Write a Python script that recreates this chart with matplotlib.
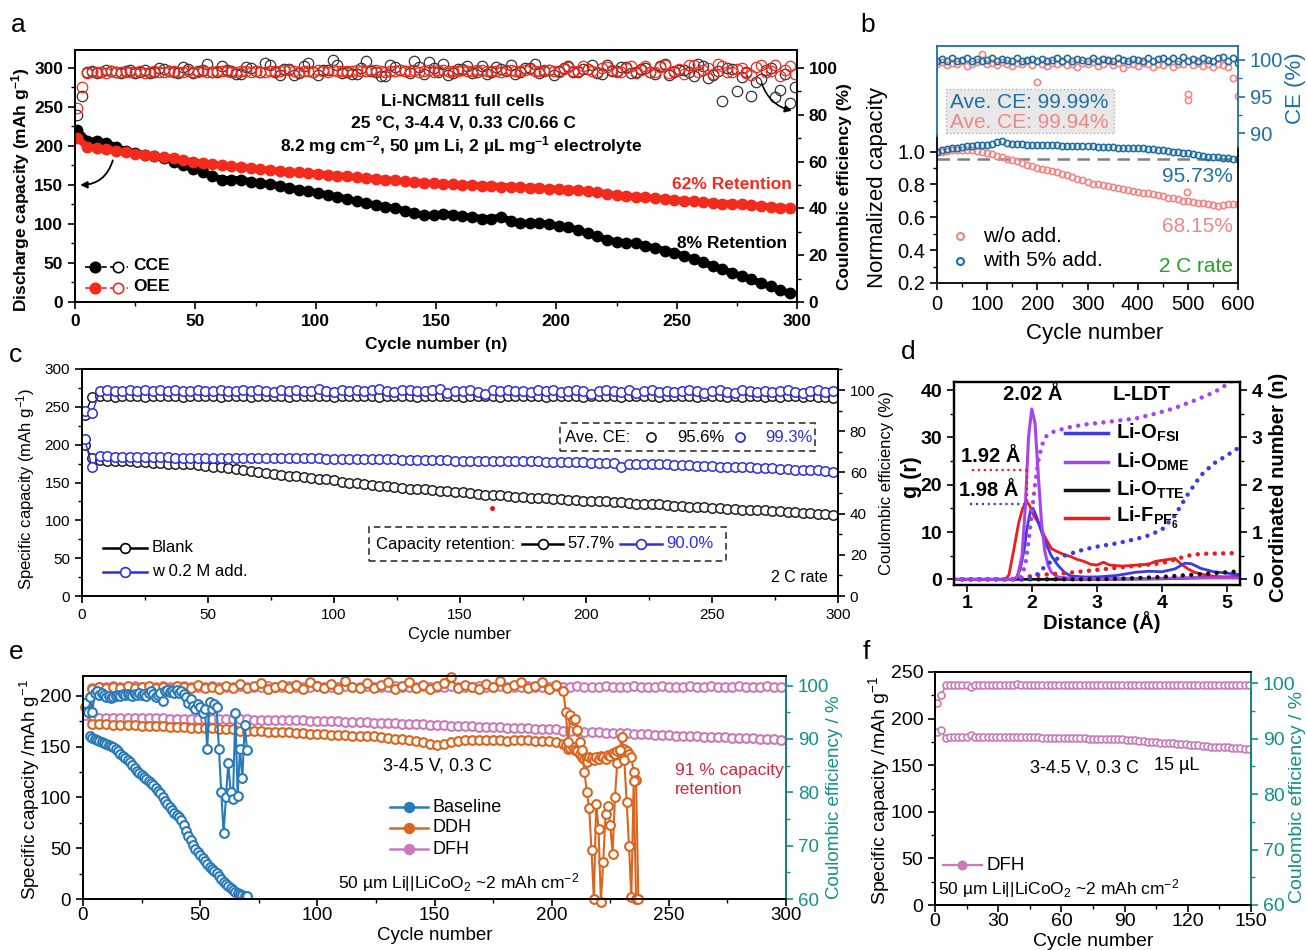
import numpy as np
import matplotlib
matplotlib.use("Agg")
import matplotlib.pyplot as plt
from matplotlib.lines import Line2D
from matplotlib.patches import Rectangle
from matplotlib.ticker import MultipleLocator, FormatStrFormatter

W, H = 1307, 950

plt.rcParams["font.family"] = ["Liberation Sans", "DejaVu Sans"]
plt.rcParams["mathtext.fontset"] = "custom"
plt.rcParams["mathtext.rm"] = "Liberation Sans"
plt.rcParams["mathtext.it"] = "Liberation Sans:italic"
plt.rcParams["mathtext.bf"] = "Liberation Sans:bold"
plt.rcParams["axes.linewidth"] = 1.3

# =========================
# Data
# =========================
# --- panel a: Li-NCM811 full cells (every 4th cycle, CE also on the odd 2nd cycles) ---
a_cycles = np.arange(1, 301, 4)
a_cycles_mid = np.arange(3, 301, 4)
a_cce_cap = [220, 207, 206, 204, 199, 194, 191, 189, 187, 185,
             180, 175, 171, 167, 161, 157, 157, 157, 154, 152,
             151, 149, 146, 144, 142, 140, 137, 135, 132, 129,
             127, 124, 122, 120, 117, 114, 111, 111, 113, 112,
             110, 109, 107, 107, 109, 104, 101, 101, 101, 100,
             97, 96, 92, 88, 84, 80, 77, 76, 75, 72,
             69, 66, 63, 59, 55, 51, 46, 42, 37, 33,
             29, 24, 20, 15, 11]
a_oee_cap = [210, 199, 197, 196, 194, 192, 190, 189, 187, 186,
             184, 182, 180, 178, 177, 175, 174, 173, 172, 170,
             169, 168, 167, 166, 165, 164, 163, 162, 161, 160,
             159, 158, 157, 156, 155, 154, 153, 152, 151, 151,
             150, 150, 149, 149, 148, 148, 147, 146, 146, 145,
             145, 144, 143, 142, 141, 139, 137, 136, 135, 134,
             133, 132, 131, 130, 129, 128, 127, 126, 126, 125,
             124, 123, 122, 121, 120]
a_cce_ce = [80.0, 98.5, 98.0, 99.0, 98.2, 98.6, 97.8, 99.2, 98.4, 99.6,
            98.1, 100.5, 97.9, 99.0, 98.3, 101.0, 98.6, 97.5, 99.8, 98.2,
            101.5, 97.2, 99.4, 98.0, 102.2, 97.0, 99.1, 101.3, 98.4, 97.6,
            102.8, 98.1, 96.8, 100.6, 98.7, 103.2, 97.4, 99.9, 101.8, 98.0,
            99.5, 97.8, 100.9, 98.3, 99.7, 101.4, 98.5, 100.2, 97.9, 99.3,
            98.8, 100.7, 98.2, 99.6, 97.7, 101.1, 98.9, 100.4, 98.1, 99.8,
            97.5, 101.6, 98.4, 99.1, 96.5, 100.8, 97.2, 86.0, 99.5, 96.2,
            88.0, 95.5, 100.2, 90.5, 85.0]
a_cce_ce_mid = [88.0, 98.9, 98.3, 98.7, 97.9, 99.1, 98.5, 98.0, 100.2, 98.6,
                97.8, 99.4, 98.9, 101.7, 98.2, 99.0, 97.6, 100.4, 98.8, 102.0,
                98.3, 99.7, 96.9, 100.8, 98.5, 99.3, 103.5, 98.0, 97.4, 100.1,
                98.9, 96.5, 101.2, 99.0, 97.8, 100.5, 102.4, 98.3, 96.9, 99.6,
                101.0, 98.4, 97.5, 100.3, 98.9, 97.3, 99.8, 101.9, 98.6, 97.1,
                100.0, 98.2, 99.4, 101.3, 97.6, 98.8, 100.6, 97.9, 99.7, 98.3,
                100.9, 97.0, 99.2, 98.4, 101.8, 95.8, 98.7, 99.9, 90.0, 98.5,
                94.2, 99.0, 87.5, 97.6, 92.0]
a_oee_ce = [83.0, 98.0, 98.3, 97.9, 98.5, 98.1, 98.4, 98.0, 98.6, 98.2,
            98.7, 98.3, 98.1, 98.8, 98.4, 98.6, 98.2, 98.9, 98.5, 98.3,
            98.8, 98.6, 99.0, 98.4, 98.7, 99.1, 98.5, 98.9, 98.6, 99.0,
            98.7, 99.2, 98.4, 98.9, 98.6, 99.3, 98.8, 98.5, 99.1, 98.7,
            99.0, 98.6, 99.3, 98.8, 98.5, 99.2, 98.9, 99.4, 98.7, 99.1,
            98.4, 100.3, 98.9, 99.6, 98.2, 100.6, 98.5, 99.9, 97.8, 100.8,
            98.3, 101.2, 98.8, 97.6, 101.5, 99.0, 97.4, 101.0, 98.1, 100.2,
            97.2, 101.4, 98.6, 96.8, 100.9]
a_oee_ce_mid = [92.0, 98.3, 98.1, 98.6, 98.2, 98.4, 98.7, 98.3, 98.5, 98.8,
                98.4, 98.9, 98.5, 98.3, 98.7, 98.9, 98.4, 98.6, 98.8, 98.5,
                98.6, 99.0, 98.7, 98.9, 98.5, 98.8, 99.1, 98.6, 98.8, 98.7,
                99.0, 98.6, 98.9, 99.2, 98.7, 98.5, 99.0, 99.2, 98.8, 98.9,
                98.7, 99.1, 98.9, 98.6, 99.3, 98.8, 99.0, 98.6, 99.2, 98.9,
                99.4, 98.7, 100.9, 98.6, 100.1, 99.0, 98.3, 100.7, 99.2, 98.5,
                100.5, 97.9, 99.4, 101.3, 98.2, 100.0, 101.7, 98.5, 99.6, 97.7,
                100.6, 98.2, 101.1, 99.0, 97.5]

# --- panel b: normalized capacity and CE (every 10th cycle) ---
b_cycles = np.arange(0, 601, 10)
b_blue_cap = [1.00, 1.01, 1.015, 1.02, 1.025, 1.03, 1.035, 1.035, 1.04, 1.04,
              1.04, 1.045, 1.06, 1.065, 1.05, 1.045, 1.045, 1.045, 1.04, 1.04,
              1.04, 1.04, 1.04, 1.04, 1.04, 1.035, 1.035, 1.035, 1.035, 1.035,
              1.035, 1.035, 1.03, 1.03, 1.03, 1.03, 1.025, 1.025, 1.025, 1.02,
              1.02, 1.02, 1.015, 1.015, 1.01, 1.01, 1.005, 1.0, 0.995, 0.99,
              0.99, 0.985, 0.98, 0.975, 0.97, 0.97, 0.965, 0.96, 0.96, 0.955,
              0.955]
b_pink_cap = [1.00, 1.00, 1.005, 1.01, 1.01, 1.01, 1.01, 1.01, 1.005, 1.0,
              0.99, 0.985, 0.975, 0.965, 0.955, 0.95, 0.94, 0.93, 0.92, 0.91,
              0.90, 0.895, 0.89, 0.88, 0.875, 0.865, 0.855, 0.845, 0.835, 0.825,
              0.815, 0.805, 0.80, 0.795, 0.79, 0.785, 0.78, 0.77, 0.765, 0.76,
              0.755, 0.75, 0.745, 0.74, 0.735, 0.73, 0.72, 0.715, 0.71, 0.70,
              0.70, 0.695, 0.69, 0.685, 0.68, 0.675, 0.67, 0.675, 0.68, 0.68,
              0.68]
b_blue_ce = [99.9, 100.1, 99.8, 100.2, 99.9, 100.0, 100.2, 99.8, 100.1, 99.9,
             100.0, 100.2, 99.8, 100.1, 100.0, 99.9, 100.2, 99.8, 100.0, 100.1,
             99.9, 100.1, 99.8, 100.0, 100.2, 99.9, 100.3, 99.8, 100.1, 100.0,
             99.9, 100.2, 99.8, 100.1, 100.0, 99.8, 100.2, 100.0, 99.9, 100.1,
             100.0, 99.8, 100.2, 99.9, 100.1, 100.3, 99.8, 100.2, 99.9, 100.4,
             99.8, 100.1, 99.9, 100.3, 100.0, 99.8, 100.2, 100.4, 99.9, 100.2,
             99.6]
b_pink_ce = [99.5, 99.7, 99.3, 99.6, 99.4, 99.8, 99.2, 99.5, 99.7, 100.8,
             99.4, 99.6, 99.3, 99.7, 99.5, 99.2, 99.6, 99.4, 99.8, 99.3,
             97.0, 99.5, 99.2, 99.6, 99.4, 99.7, 99.3, 99.5, 99.1, 99.6,
             99.4, 99.7, 99.2, 99.5, 99.8, 99.3, 99.6, 98.9, 99.4, 99.5,
             99.2, 99.6, 99.4, 99.0, 99.5, 99.3, 99.7, 99.1, 99.5, 99.4,
             95.4, 99.3, 99.6, 99.2, 99.5, 99.0, 99.4, 99.3, 99.1, 97.6,
             95.1]
b_pink_cap_out_x = [498]
b_pink_cap_out_y = [0.755]
b_pink_ce_out_x = [500]
b_pink_ce_out_y = [94.5]

# --- panel c: blank vs 0.2 M additive (every 3rd cycle) ---
c_cycles = np.arange(1, 301, 3)
c_blank_cap = [200, 182, 180, 179, 179, 178, 178, 177, 177, 176,
               176, 175, 175, 174, 174, 173, 172, 171, 170, 169,
               168, 167, 165, 164, 162, 161, 160, 159, 158, 157,
               156, 155, 154, 153, 151, 150, 149, 148, 147, 146,
               145, 144, 143, 142, 142, 141, 140, 139, 139, 138,
               137, 136, 135, 134, 134, 133, 132, 131, 131, 130,
               129, 129, 128, 128, 127, 127, 126, 126, 125, 125,
               124, 124, 123, 122, 122, 121, 121, 120, 119, 119,
               118, 118, 117, 116, 116, 115, 115, 114, 114, 113,
               113, 112, 112, 111, 111, 110, 110, 109, 108, 107]
c_add_cap = [208, 170, 185, 185, 184, 184, 184, 184, 184, 184,
             184, 184, 183, 183, 183, 183, 183, 183, 183, 182,
             182, 182, 182, 182, 182, 182, 182, 182, 182, 182,
             182, 182, 181, 181, 181, 181, 181, 181, 181, 181,
             181, 181, 180, 180, 180, 180, 180, 180, 180, 179,
             179, 179, 179, 179, 178, 178, 178, 178, 178, 178,
             178, 177, 177, 177, 177, 177, 177, 176, 176, 176,
             176, 170, 175, 175, 175, 174, 174, 174, 173, 173,
             173, 172, 172, 172, 171, 171, 171, 170, 170, 169,
             169, 169, 168, 168, 167, 167, 166, 166, 165, 164]
c_blank_ce = [88.0, 96.5, 96.9, 97.2, 96.8, 97.1, 96.9, 97.3, 96.8, 97.0,
              97.2, 96.9, 97.1, 96.8, 97.3, 97.0, 96.9, 97.2, 96.8, 97.1,
              97.0, 97.3, 96.8, 97.1, 96.9, 97.2, 97.0, 96.8, 97.3, 97.0,
              96.9, 97.2, 97.0, 96.8, 97.1, 97.3, 96.9, 97.0, 97.2, 96.8,
              97.1, 96.9, 97.3, 97.0, 96.8, 97.2, 97.0, 96.9, 97.1, 97.3,
              96.8, 97.0, 97.2, 96.9, 97.1, 96.7, 97.0, 97.2, 96.9, 97.1,
              97.0, 96.8, 97.2, 97.0, 96.9, 97.1, 96.8, 97.2, 97.0, 96.9,
              97.1, 96.8, 97.0, 97.2, 96.9, 97.1, 96.8, 97.0, 97.2, 96.9,
              97.0, 96.7, 97.1, 96.9, 97.2, 96.8, 97.0, 96.7, 97.1, 96.9,
              96.8, 97.0, 96.6, 96.9, 97.1, 96.7, 96.9, 96.6, 96.8, 96.0]
c_add_ce = [90.0, 88.6, 99.5, 99.8, 99.3, 99.7, 100.2, 99.6, 99.9, 99.4,
            99.8, 99.5, 100.0, 99.6, 99.3, 99.9, 99.7, 99.4, 100.1, 99.6,
            99.3, 99.8, 99.5, 100.0, 99.6, 99.2, 99.9, 99.5, 100.2, 99.7,
            99.4, 100.3, 99.6, 99.2, 99.9, 99.5, 100.1, 99.3, 99.8, 100.4,
            99.5, 99.1, 99.9, 100.2, 99.6, 99.3, 99.8, 100.3, 98.6, 99.7,
            99.4, 99.9, 99.2, 98.1, 99.8, 99.5, 100.0, 99.3, 99.7, 99.1,
            99.8, 99.4, 100.1, 99.0, 99.6, 99.9, 99.3, 98.2, 99.7, 100.2,
            99.5, 99.1, 99.8, 98.4, 99.6, 100.1, 99.2, 99.7, 98.8, 99.5,
            99.9, 99.3, 98.5, 99.6, 100.0, 99.2, 98.6, 99.8, 99.4, 99.0,
            99.7, 98.8, 99.5, 100.1, 99.2, 98.7, 99.6, 99.9, 99.1, 99.5]

# --- panel d: RDF g(r) and coordination number n(r) ---
d_dme_r = [0.8, 1.7, 1.78, 1.85, 1.9, 1.95, 2.0, 2.05, 2.1, 2.15, 2.2, 2.25, 2.3, 2.4, 2.6, 3.0, 3.5, 4.0, 4.5, 5.0, 5.2]
d_dme_g = [0, 0, 0.5, 5, 15, 30, 36, 33, 22, 12, 6, 3, 1.5, 0.5, 0.2, 0.1, 0.1, 0.2, 0.3, 0.3, 0.3]
d_fsi_r = [0.8, 1.75, 1.82, 1.88, 1.93, 1.98, 2.02, 2.08, 2.15, 2.22, 2.3, 2.4, 2.5, 2.6, 2.8, 3.0, 3.3, 3.6, 3.8, 4.0, 4.2, 4.35, 4.45, 4.6, 4.8, 5.0, 5.2]
d_fsi_g = [0, 0, 2, 6, 11, 14.5, 15, 13, 10, 7.5, 5, 3, 1.5, 0.7, 0.5, 0.5, 0.8, 1.5, 1.7, 1.6, 2.2, 3.4, 3.3, 2.3, 1.6, 1.3, 1.0]
d_pf6_r = [0.8, 1.6, 1.65, 1.72, 1.8, 1.86, 1.92, 1.97, 2.03, 2.1, 2.2, 2.3, 2.4, 2.5, 2.6, 2.7, 2.8, 2.9, 3.0, 3.1, 3.2, 3.4, 3.6, 3.8, 3.9, 4.0, 4.1, 4.2, 4.3, 4.4, 4.5, 4.7, 5.0, 5.2]
d_pf6_g = [0, 0, 1, 6, 12, 15, 16.5, 15.5, 13.5, 12, 9, 6.5, 5.8, 5.2, 4.8, 4.2, 3.8, 3.2, 3.0, 3.6, 3.0, 2.8, 3.0, 3.2, 3.8, 4.0, 4.2, 4.4, 3.2, 2.2, 1.5, 0.8, 0.4, 0.3]
d_tte_r = [0.8, 3.0, 4.0, 4.5, 5.0, 5.2]
d_tte_g = [0, 0, 0.1, 0.3, 0.5, 0.6]
d_dme_nr = [0.8, 1.8, 1.85, 1.9, 1.95, 2.0, 2.05, 2.1, 2.15, 2.2, 2.3, 2.4, 2.6, 2.8, 3.0, 3.3, 3.6, 3.9, 4.2, 4.5, 4.8, 5.0, 5.2]
d_dme_n = [0, 0, 0.1, 0.3, 0.8, 1.4, 2.0, 2.5, 2.8, 3.0, 3.1, 3.15, 3.22, 3.27, 3.3, 3.35, 3.4, 3.5, 3.62, 3.78, 3.95, 4.12, 4.3]
d_fsi_nr = [0.8, 1.9, 2.0, 2.1, 2.2, 2.3, 2.5, 2.8, 3.0, 3.3, 3.6, 3.8, 4.0, 4.2, 4.4, 4.6, 4.8, 5.0, 5.2]
d_fsi_n = [0, 0, 0.03, 0.12, 0.27, 0.38, 0.5, 0.63, 0.69, 0.76, 0.85, 0.93, 1.05, 1.35, 1.8, 2.2, 2.45, 2.62, 2.8]
d_pf6_nr = [0.8, 1.7, 1.8, 1.9, 2.0, 2.1, 2.3, 2.5, 2.8, 3.0, 3.5, 4.0, 4.2, 4.4, 4.6, 5.0, 5.2]
d_pf6_n = [0, 0, 0.02, 0.05, 0.07, 0.09, 0.11, 0.13, 0.17, 0.2, 0.27, 0.34, 0.42, 0.5, 0.54, 0.55, 0.56]
d_tte_nr = [0.8, 3.0, 3.5, 4.0, 4.5, 5.0, 5.2]
d_tte_n = [0, 0, 0.02, 0.05, 0.1, 0.15, 0.17]

# --- panel e: Li||LiCoO2, Baseline / DDH / DFH ---
e_base_ce_cyc = np.arange(1, 71)
e_base_ce = [96.7, 95.1, 97.9, 95.1, 98.6, 99.0, 98.3, 98.6, 98.2, 97.8,
             98.0, 97.6, 97.9, 98.1, 98.3, 98.0, 98.4, 98.2, 98.5, 98.3,
             98.1, 98.4, 98.2, 98.6, 98.3, 98.5, 98.1, 98.7, 98.9, 98.4,
             97.9, 98.2, 98.6, 97.2, 99.0, 99.2, 98.8, 99.0, 98.6, 99.1,
             98.7, 99.0, 98.4, 97.8, 96.8, 97.4, 96.2, 95.6, 96.5, 96.0,
             94.8, 95.7, 88.2, 96.9, 95.7, 96.6, 96.0, 88.2, 80.0, 72.3,
             79.1, 85.5, 80.0, 78.8, 94.8, 79.4, 88.2, 82.6, 92.6, 88.0]
e_base_cap_cyc = np.arange(3, 71)
e_base_cap = [161, 159, 158, 157, 156, 155, 154, 153, 152, 151,
              150, 148, 146, 143, 141, 139, 137, 135, 132, 129,
              126, 124, 122, 120, 118, 116, 114, 112, 109, 106,
              104, 100, 97, 94, 91, 88, 85, 83, 81, 78,
              73, 67, 62, 58, 53, 49, 46, 43, 40, 37,
              34, 32, 30, 28, 26, 23, 20, 17, 15, 13,
              11, 9, 7, 6, 5, 4, 3, 3]
e_ddh_cyc = np.concatenate([np.arange(1, 205, 3), np.arange(205, 238)])
e_ddh_cap = [188, 172, 172, 172, 171, 171, 171, 171, 170, 170,
             170, 170, 169, 169, 169, 168, 168, 168, 168, 167,
             167, 167, 166, 166, 166, 166, 165, 165, 165, 165,
             164, 164, 163, 163, 163, 162, 162, 162, 161, 161,
             161, 161, 160, 159, 158, 158, 157, 156, 155, 153,
             152, 153, 155, 156, 157, 157, 157, 157, 157, 157,
             156, 157, 157, 157, 156, 156, 156, 155,
             153, 152, 148, 149, 150, 147, 146, 143, 140, 138,
             135, 140, 139, 137, 140, 138, 141, 140, 138, 142,
             141, 144, 143, 146, 147, 145, 148, 146, 143, 140,
             125, 117, 0]
e_ddh_ce = [96.0, 99.4, 99.7, 99.5, 99.8, 99.6, 99.9, 99.5, 99.7, 100.0,
            99.6, 99.8, 99.4, 99.9, 99.7, 99.5, 100.1, 99.6, 99.8, 99.4,
            100.0, 99.5, 100.3, 99.6, 99.9, 100.5, 99.4, 99.8, 100.2, 99.6,
            100.1, 99.3, 100.6, 99.9, 99.5, 100.3, 99.4, 100.9, 99.8, 99.5,
            100.4, 99.6, 100.1, 100.6, 99.3, 100.0, 100.7, 99.6, 100.2, 99.4,
            99.9, 100.5, 101.6, 99.5, 100.1, 99.8, 99.4, 100.3, 99.7, 100.8,
            99.5, 100.2, 100.6, 99.6, 100.0, 100.7, 99.4, 100.1,
            99.0, 95.1, 89.5, 94.5, 93.5, 93.8, 91.6, 89.4, 87.9, 83.8,
            80.0, 77.0, 69.1, 60.0, 77.9, 73.2, 59.5, 66.9, 76.0, 77.5,
            73.8, 68.5, 79.1, 85.5, 88.0, 90.4, 86.0, 78.2, 70.0, 60.3,
            82.2, 60.0, 60.0]
e_dfh_cyc = np.arange(1, 301, 3)
e_dfh_cap = [181, 177, 178, 178, 178, 178, 178, 178, 178, 178,
             178, 178, 177, 177, 177, 177, 177, 177, 177, 177,
             177, 177, 177, 177, 176, 176, 176, 176, 176, 176,
             176, 176, 175, 175, 175, 175, 175, 174, 174, 174,
             174, 173, 173, 173, 173, 172, 172, 172, 172, 171,
             171, 171, 170, 170, 170, 170, 169, 169, 169, 169,
             168, 168, 168, 168, 167, 167, 167, 167, 166, 166,
             166, 165, 165, 165, 164, 164, 164, 164, 163, 163,
             163, 162, 162, 162, 161, 161, 161, 161, 160, 160,
             160, 160, 159, 159, 159, 159, 158, 158, 158, 157]
e_dfh_ce = [96.5, 99.5, 99.8, 99.7, 99.9, 99.8, 99.7, 99.9, 99.8, 99.7,
            99.8, 99.9, 99.7, 99.8, 99.9, 99.8, 99.7, 99.8, 99.9, 99.8,
            99.7, 99.8, 99.9, 99.8, 99.7, 99.8, 99.9, 99.7, 99.8, 99.9,
            99.8, 99.7, 99.8, 99.9, 99.8, 99.7, 99.8, 99.9, 99.8, 99.7,
            99.9, 99.8, 99.7, 99.8, 99.9, 99.8, 99.7, 99.8, 99.9, 99.8,
            99.7, 99.8, 99.9, 99.8, 99.7, 99.8, 99.9, 99.7, 99.8, 99.9,
            99.8, 99.7, 99.8, 99.9, 99.8, 99.7, 99.8, 99.9, 99.8, 99.7,
            99.9, 99.8, 99.7, 99.8, 99.9, 99.8, 99.7, 99.8, 99.9, 99.8,
            99.7, 99.8, 99.9, 99.8, 99.7, 99.8, 99.9, 99.7, 99.8, 99.9,
            99.8, 99.7, 99.8, 99.9, 99.8, 99.7, 99.8, 99.9, 99.8, 99.8]

# --- panel f: DFH, 15 uL (every 2nd cycle) ---
f_cycles = np.arange(1, 151, 2)
f_cap = [186, 188, 179, 180, 180, 180, 180, 180, 182, 180,
         180, 180, 180, 180, 180, 180, 180, 180, 180, 180,
         180, 180, 180, 180, 180, 179, 179, 179, 179, 179,
         179, 179, 179, 179, 179, 179, 178, 178, 178, 178,
         178, 178, 178, 178, 178, 177, 177, 177, 176, 176,
         175, 175, 175, 174, 174, 174, 174, 173, 173, 173,
         172, 172, 172, 171, 171, 170, 170, 170, 169, 169,
         168, 168, 168, 167, 167]
f_ce = [96.4, 97.8, 99.6, 99.6, 99.7, 99.6, 99.7, 99.6, 99.3, 99.7,
        99.6, 99.7, 99.6, 99.7, 99.6, 99.7, 99.6, 99.7, 99.6, 99.9,
        99.7, 99.6, 99.7, 99.6, 99.7, 99.6, 99.7, 99.6, 99.7, 99.6,
        99.7, 99.6, 99.7, 99.6, 99.7, 99.6, 99.7, 99.6, 99.7, 99.6,
        99.7, 99.6, 99.7, 99.6, 99.7, 99.6, 99.7, 99.6, 99.7, 99.6,
        99.7, 99.6, 99.7, 99.6, 99.7, 99.6, 99.7, 99.6, 99.7, 99.6,
        99.7, 99.6, 99.7, 99.6, 99.7, 99.6, 99.7, 99.6, 99.7, 99.6,
        99.7, 99.6, 99.7, 99.6, 99.7]

# colours
RED_A = "#f42a1c"
BLUE_B = "#1f6fa3"
PINK_B = "#f08686"
BLUE_C = "#2e2ee0"
BASE_E = "#2a7ab8"
DDH_E = "#d9661e"
DFH_E = "#c97ab8"
TEAL = "#14908a"


# =========================
# Helpers (pixel placement)
# =========================
def px_axes(fig, l, t, r, b):
    return fig.add_axes([l / W, 1 - b / H, (r - l) / W, (b - t) / H])


def ftext(fig, x, y, s, **kw):
    kw.setdefault("ha", "center")
    kw.setdefault("va", "center")
    return fig.text(x / W, 1 - y / H, s, **kw)


def fhandle(fig, x0, x1, y, color, marks, ls="-", lw=1.5, ms=7, mew=1.2):
    """Short legend sample drawn in figure pixels: a line plus markers."""
    if ls is not None:
        fig.add_artist(Line2D([x0 / W, x1 / W], [1 - y / H] * 2, color=color, ls=ls, lw=lw,
                              transform=fig.transFigure))
    for mx, face in marks:
        fig.add_artist(Line2D([mx / W], [1 - y / H], marker="o", ms=ms, mfc=face, mec=color,
                              mew=mew, ls="none", transform=fig.transFigure))


def ticks(ax, size, bold=False):
    ax.tick_params(which="both", direction="out", labelsize=size)
    ax.tick_params(which="major", length=5, width=1.2)
    ax.tick_params(which="minor", length=3, width=1.0)
    if bold:
        plt.setp(ax.get_xticklabels() + ax.get_yticklabels(), fontweight="bold")


fig = plt.figure(figsize=(W / 100, H / 100), dpi=100)

# =========================
# a
# =========================
ax = px_axes(fig, 75, 50, 797, 302)
ax.set_xlim(0, 300)
ax.set_ylim(0, 323)
ax.xaxis.set_major_locator(MultipleLocator(50))
ax.xaxis.set_minor_locator(MultipleLocator(25))
ax.yaxis.set_major_locator(MultipleLocator(50))
ax.yaxis.set_minor_locator(MultipleLocator(25))
ax.plot(a_cycles, a_cce_cap, "-o", color="black", ms=7.5, lw=5, zorder=3)
ax.plot(a_cycles, a_oee_cap, "-o", color=RED_A, ms=7.5, lw=5, zorder=3)
ax.annotate("", xy=(1, 150), xytext=(16, 185),
            arrowprops=dict(arrowstyle="-|>", color="black", lw=1.3, connectionstyle="arc3,rad=-0.4"))
ax2 = ax.twinx()
ax2.set_ylim(0, 107.7)
ax2.yaxis.set_major_locator(MultipleLocator(20))
ax2.yaxis.set_minor_locator(MultipleLocator(10))
ce_a = dict(mfc="none", ms=7.5, mew=0.9, ls="none", marker="o")
ax2.plot(a_cycles, a_cce_ce, mec="#333333", **ce_a)
ax2.plot(a_cycles_mid, a_cce_ce_mid, mec="#333333", **ce_a)
ax2.plot(a_cycles, a_oee_ce, mec=RED_A, **ce_a)
ax2.plot(a_cycles_mid, a_oee_ce_mid, mec=RED_A, **ce_a)
ax2.annotate("", xy=(299, 81.5), xytext=(285, 94.5),
             arrowprops=dict(arrowstyle="-|>", color="black", lw=1.2, connectionstyle="arc3,rad=0.3"))
ticks(ax, 12.5, bold=True)
ticks(ax2, 12.5, bold=True)

bold = dict(fontsize=12.5, fontweight="bold")
ftext(fig, 21, 190, r"Discharge capacity (mAh g$^{\mathbf{-1}}$)", rotation=90, **bold)
ftext(fig, 845, 187, "Coulombic efficiency (%)", rotation=90, **bold)
ftext(fig, 436, 345, "Cycle number (n)", **bold)
ftext(fig, 463, 102, "Li-NCM811 full cells", **bold)
ftext(fig, 463, 124, "25 °C, 3-4.4 V, 0.33 C/0.66 C", **bold)
ftext(fig, 461, 146, r"8.2 mg cm$^{\mathbf{-2}}$, 50 µm Li, 2 µL mg$^{\mathbf{-1}}$ electrolyte", **bold)
ftext(fig, 792, 185, "62% Retention", color=RED_A, ha="right", **bold)
ftext(fig, 787, 243, "8% Retention", ha="right", **bold)
fhandle(fig, 85, 128, 267, "black", [(95, "black"), (118, "white")], ls=(0, (3, 2)), lw=1.2, ms=7.5)
fhandle(fig, 85, 128, 288, RED_A, [(95, RED_A), (118, "white")], ls=(0, (3, 2)), lw=1.2, ms=7.5)
ftext(fig, 133, 266, "CCE", ha="left", **bold)
ftext(fig, 133, 287, "OEE", ha="left", **bold)

# =========================
# b
# =========================
axb = px_axes(fig, 937, 46, 1238, 283)
axb.set_xlim(0, 600)
axb.set_ylim(0.2, 1.643)
axb.set_xticks(range(0, 601, 100))
axb.xaxis.set_minor_locator(MultipleLocator(50))
axb.set_yticks([0.2, 0.4, 0.6, 0.8, 1.0])
axb.set_yticks([0.3, 0.5, 0.7, 0.9], minor=True)
axb.yaxis.set_major_formatter(FormatStrFormatter("%.1f"))
axb.axhline(0.955, color="#808080", ls=(0, (5, 3)), lw=1.8, zorder=1)
axb.plot(b_cycles, b_pink_cap, "o", mfc="none", mec=PINK_B, ms=4.5, mew=1.2)
axb.plot(b_pink_cap_out_x, b_pink_cap_out_y, "o", mfc="none", mec=PINK_B, ms=4.5, mew=1.2)
axb.plot(b_cycles, b_blue_cap, "o", mfc="none", mec=BLUE_B, ms=4.5, mew=1.2)
axb.spines["top"].set_visible(False)
axb.spines["left"].set_bounds(0.2, 1.10)
axb.spines["right"].set_bounds(0.2, 1.03)
axb2 = axb.twinx()
axb2.set_ylim(69.6, 101.9)
axb2.set_yticks([90, 95, 100])
axb2.set_yticks([92.5, 97.5], minor=True)
axb2.plot(b_cycles, b_pink_ce, "o", mfc="none", mec=PINK_B, ms=4.5, mew=1.2)
axb2.plot(b_pink_ce_out_x, b_pink_ce_out_y, "o", mfc="none", mec=PINK_B, ms=4.5, mew=1.2)
axb2.plot(b_cycles, b_blue_ce, "o", mfc="none", mec=BLUE_B, ms=4.5, mew=1.2)
axb2.spines["bottom"].set_visible(False)
for side in ["left", "right", "top"]:
    axb2.spines[side].set_color(BLUE_B)
axb2.spines["left"].set_bounds(89.7, 101.9)
axb2.spines["right"].set_bounds(88.1, 101.9)
ticks(axb, 14.5)
ticks(axb2, 14.5)
axb2.tick_params(which="both", colors=BLUE_B)

fig.add_artist(Rectangle((946 / W, 1 - 133 / H), 168 / W, 44 / H, transform=fig.transFigure,
                         facecolor="#e8e8e8", edgecolor="#b0b0b0", ls=":", lw=1))
ftext(fig, 950, 102, "Ave. CE: 99.99%", color=BLUE_B, ha="left", fontsize=15)
ftext(fig, 950, 123, "Ave. CE: 99.94%", color=PINK_B, ha="left", fontsize=15)
ftext(fig, 1233, 177, "95.73%", color=BLUE_B, ha="right", fontsize=15)
ftext(fig, 1233, 226, "68.15%", color=PINK_B, ha="right", fontsize=15)
ftext(fig, 1233, 266, "2 C rate", color="#2a9d2a", ha="right", fontsize=15)
fhandle(fig, 0, 0, 236, PINK_B, [(960, "none")], ls=None, ms=5, mew=1.5)
fhandle(fig, 0, 0, 261, BLUE_B, [(960, "none")], ls=None, ms=5, mew=1.5)
ftext(fig, 983, 236, "w/o add.", ha="left", fontsize=15)
ftext(fig, 983, 261, "with 5% add.", ha="left", fontsize=15)
ftext(fig, 877, 188, "Normalized capacity", rotation=90, fontsize=16)
ftext(fig, 1296, 88, "CE (%)", rotation=90, color=BLUE_B, fontsize=16)
ftext(fig, 1095, 333, "Cycle number", fontsize=16)

# =========================
# c
# =========================
axc = px_axes(fig, 82, 369, 838, 596)
axc.set_xlim(0, 300)
axc.set_ylim(0, 300)
axc.xaxis.set_major_locator(MultipleLocator(50))
axc.xaxis.set_minor_locator(MultipleLocator(25))
axc.yaxis.set_major_locator(MultipleLocator(50))
axc.yaxis.set_minor_locator(MultipleLocator(25))
axc.plot(c_cycles, c_blank_cap, "-o", color="black", mfc="white", mec="#222222", ms=6.8, mew=1.1, lw=1)
axc.plot(c_cycles, c_add_cap, "-o", color=BLUE_C, mfc="white", mec=BLUE_C, ms=6.8, mew=1.1, lw=1)
axc2 = axc.twinx()
axc2.set_ylim(0, 110.2)
axc2.yaxis.set_major_locator(MultipleLocator(20))
axc2.yaxis.set_minor_locator(MultipleLocator(10))
axc2.plot(c_cycles, c_blank_ce, "-o", color="black", mfc="white", mec="#222222", ms=6.8, mew=1.1, lw=1)
axc2.plot(c_cycles, c_add_ce, "-o", color=BLUE_C, mfc="white", mec=BLUE_C, ms=6.8, mew=1.1, lw=1)
axc2.plot([162.5], [42.8], "o", color="red", ms=2.5)
ticks(axc, 11)
ticks(axc2, 11)
ftext(fig, 26, 489, r"Specific capacity (mAh g$^{-1}$)", rotation=90, fontsize=12)
ftext(fig, 887, 483, "Coulombic efficiency (%)", rotation=90, fontsize=12)
ftext(fig, 459, 635, "Cycle number", fontsize=12)
fhandle(fig, 103, 147, 548, "black", [(125, "white")], ms=7, lw=1.8)
fhandle(fig, 103, 147, 572, BLUE_C, [(125, "white")], ms=7, lw=1.8)
ftext(fig, 152, 548, "Blank", ha="left", fontsize=12)
ftext(fig, 152, 572, "w 0.2 M add.", ha="left", fontsize=12)
ftext(fig, 828, 578, "2 C rate", ha="right", fontsize=11.5)
fig.add_artist(Rectangle((560 / W, 1 - 451 / H), 255 / W, 28 / H, transform=fig.transFigure,
                         facecolor="none", edgecolor="#333333", ls=(0, (4, 2.5)), lw=1.2))
ftext(fig, 565, 438, "Ave. CE:", ha="left", fontsize=12)
fhandle(fig, 0, 0, 437, "#222222", [(651, "none")], ls=None, ms=6.5, mew=1.3)
ftext(fig, 677, 438, "95.6%", ha="left", fontsize=12)
fhandle(fig, 0, 0, 437, BLUE_C, [(740, "none")], ls=None, ms=6.5, mew=1.3)
ftext(fig, 765, 438, "99.3%", ha="left", color=BLUE_C, fontsize=12)
fig.add_artist(Rectangle((369 / W, 1 - 561 / H), 357 / W, 34 / H, transform=fig.transFigure,
                         facecolor="none", edgecolor="#333333", ls=(0, (4, 2.5)), lw=1.2))
ftext(fig, 376, 544, "Capacity retention:", ha="left", fontsize=12)
fhandle(fig, 522, 563, 544, "black", [(543, "white")], ms=7, lw=1.8)
ftext(fig, 567, 544, "57.7%", ha="left", fontsize=12)
fhandle(fig, 620, 662, 544, BLUE_C, [(641, "white")], ms=7, lw=1.8)
ftext(fig, 666, 544, "90.0%", ha="left", color=BLUE_C, fontsize=12)

# =========================
# d
# =========================
PUR = "#a545ee"
BLU_D = "#3b3be6"
RED_D = "#ee1c1c"
axd = px_axes(fig, 954, 382, 1240, 585)
axd.set_xlim(0.805, 5.2)
axd.set_ylim(-1.2, 41.7)
axd.set_xticks([1, 2, 3, 4, 5])
axd.yaxis.set_major_locator(MultipleLocator(10))
axd.yaxis.set_minor_locator(MultipleLocator(5))
axd.plot(d_tte_r, d_tte_g, color="#111111", lw=2)
axd.plot(d_pf6_r, d_pf6_g, color=RED_D, lw=2)
axd.plot(d_fsi_r, d_fsi_g, color=BLU_D, lw=2)
axd.plot(d_dme_r, d_dme_g, color=PUR, lw=2.2)
axd.plot([1.08, 1.93], [23, 23], color=RED_D, ls=":", lw=1.6)
axd.plot([1.93, 1.93], [23, 16.5], color=RED_D, ls=":", lw=1.6)
axd.plot([1.05, 1.9], [15.9, 15.9], color=BLU_D, ls=":", lw=1.6)
axd2 = axd.twinx()
axd2.set_ylim(-0.12, 4.17)
axd2.yaxis.set_major_locator(MultipleLocator(1))
axd2.yaxis.set_minor_locator(MultipleLocator(0.5))
dots = dict(ls=(0, (0.01, 1.9)), lw=3.2, dash_capstyle="round")
axd2.plot(d_tte_nr, d_tte_n, color="#111111", **dots)
axd2.plot(d_pf6_nr, d_pf6_n, color=RED_D, **dots)
axd2.plot(d_fsi_nr, d_fsi_n, color=BLU_D, **dots)
axd2.plot(d_dme_nr, d_dme_n, color=PUR, **dots)
for a_ in (axd, axd2):
    for s in a_.spines.values():
        s.set_linewidth(1.6)
ticks(axd, 14, bold=True)
ticks(axd2, 14, bold=True)
axd.tick_params(axis="x", pad=2)
bd = dict(fontsize=14.5, fontweight="bold")
ftext(fig, 1033, 395, "2.02 Å", **bd)
ftext(fig, 1142, 395, "L-LDT", **bd)
ftext(fig, 991, 457, "1.92 Å", **bd)
ftext(fig, 989, 490, "1.98 Å", **bd)
ftext(fig, 912, 477, "g (r)", rotation=90, fontsize=15.5, fontweight="bold")
ftext(fig, 1278, 487, "Coordinated number (n)", rotation=90, **bd)
ftext(fig, 1102, 622, "Distance (Å)", **bd)
d_leg = [(BLU_D, r"Li-O$_{\mathbf{FSI}}$", 433), (PUR, r"Li-O$_{\mathbf{DME}}$", 462),
         ("#111111", r"Li-O$_{\mathbf{TTE}}$", 490), (RED_D, r"Li-F$_{\mathbf{PF}_{\mathbf{6}}^{\mathbf{-}}}$", 518)]
for col, lab, yy in d_leg:
    fig.add_artist(Line2D([1065 / W, 1108 / W], [1 - yy / H] * 2, color=col, lw=2.5, transform=fig.transFigure))
    ftext(fig, 1116, yy, lab, ha="left", **bd)

# =========================
# e
# =========================
axe = px_axes(fig, 83, 676, 786, 899)
axe.set_xlim(0, 300)
axe.set_ylim(0, 219.7)
axe.xaxis.set_major_locator(MultipleLocator(50))
axe.xaxis.set_minor_locator(MultipleLocator(25))
axe.yaxis.set_major_locator(MultipleLocator(50))
axe.yaxis.set_minor_locator(MultipleLocator(25))
mk = dict(mfc="white", ms=6.3, mew=1.5, lw=1.5)
axe.plot(e_dfh_cyc, e_dfh_cap, "-o", color=DFH_E, mec=DFH_E, **mk)
axe.plot(e_ddh_cyc, e_ddh_cap, "-o", color=DDH_E, mec=DDH_E, **mk)
axe.plot(e_base_cap_cyc, e_base_cap, "-o", color=BASE_E, mec=BASE_E, **mk)
axe2 = axe.twinx()
axe2.set_ylim(60, 101.8)
axe2.yaxis.set_major_locator(MultipleLocator(10))
axe2.yaxis.set_minor_locator(MultipleLocator(5))
axe2.plot(e_dfh_cyc, e_dfh_ce, "-o", color=DFH_E, mec=DFH_E, **mk)
axe2.plot(e_ddh_cyc, e_ddh_ce, "-o", color=DDH_E, mec=DDH_E, clip_on=False, **mk)
axe2.plot(e_base_ce_cyc, e_base_ce, "-o", color=BASE_E, mec=BASE_E, **mk)
axe2.spines["right"].set_color(TEAL)
axe2.tick_params(axis="y", which="both", colors=TEAL)
ticks(axe, 13.5)
ticks(axe2, 13.5)
axe.tick_params(axis="x", pad=1)
ftext(fig, 30, 790, r"Specific capacity /mAh g$^{-1}$", rotation=90, fontsize=13.5)
ftext(fig, 834, 797, "Coulombic efficiency / %", rotation=90, color=TEAL, fontsize=13.5)
ftext(fig, 435, 936, "Cycle number", fontsize=13.5)
ftext(fig, 437, 766, "3-4.5 V, 0.3 C", fontsize=13)
ftext(fig, 675, 770, "91 % capacity", ha="left", color="#d3263f", fontsize=12.5)
ftext(fig, 675, 789, "retention", ha="left", color="#d3263f", fontsize=12.5)
ftext(fig, 338, 883, r"50 µm Li||LiCoO$_2$ ~2 mAh cm$^{-2}$", ha="left", fontsize=12.5)
for col, lab, yy in [(BASE_E, "Baseline", 807), (DDH_E, "DDH", 828), (DFH_E, "DFH", 849)]:
    fhandle(fig, 390, 428, yy, col, [(409, col)], ms=7, lw=1.8)
    ftext(fig, 432, yy, lab, ha="left", fontsize=13)

# =========================
# f
# =========================
axf = px_axes(fig, 935, 672, 1251, 905)
axf.set_xlim(0, 150)
axf.set_ylim(0, 250)
axf.xaxis.set_major_locator(MultipleLocator(30))
axf.xaxis.set_minor_locator(MultipleLocator(15))
axf.yaxis.set_major_locator(MultipleLocator(50))
axf.yaxis.set_minor_locator(MultipleLocator(25))
mkf = dict(mfc="white", ms=5, mew=1.2, lw=1.2)
axf.plot(f_cycles, f_cap, "-o", color=DFH_E, mec=DFH_E, **mkf)
axf2 = axf.twinx()
axf2.set_ylim(60, 102)
axf2.yaxis.set_major_locator(MultipleLocator(10))
axf2.yaxis.set_minor_locator(MultipleLocator(5))
axf2.plot(f_cycles, f_ce, "-o", color=DFH_E, mec=DFH_E, **mkf)
axf2.spines["right"].set_color(TEAL)
axf2.tick_params(axis="y", which="both", colors=TEAL)
ticks(axf, 14)
ticks(axf2, 14)
axf.tick_params(axis="x", pad=1)
ftext(fig, 879, 790, r"Specific capacity /mAh g$^{-1}$", rotation=90, fontsize=14)
ftext(fig, 1297, 797, "Coulombic efficiency / %", rotation=90, color=TEAL, fontsize=14)
ftext(fig, 1093, 942, "Cycle number", fontsize=14)
ftext(fig, 1084, 768, "3-4.5 V, 0.3 C", fontsize=13)
ftext(fig, 1177, 766, "15 µL", fontsize=13)
fhandle(fig, 943, 982, 865, DFH_E, [(962, DFH_E)], ms=6, lw=1.6)
ftext(fig, 986, 865, "DFH", ha="left", fontsize=13.5)
ftext(fig, 938, 889, r"50 µm Li||LiCoO$_2$ ~2 mAh cm$^{-2}$", ha="left", fontsize=12.5)

# panel letters
for lab, x, y in [("a", 18, 25), ("b", 868, 25), ("c", 16, 355), ("d", 908, 352), ("e", 16, 652), ("f", 866, 652)]:
    ftext(fig, x, y, lab, fontsize=19)

fig.savefig("out.png", dpi=100)
